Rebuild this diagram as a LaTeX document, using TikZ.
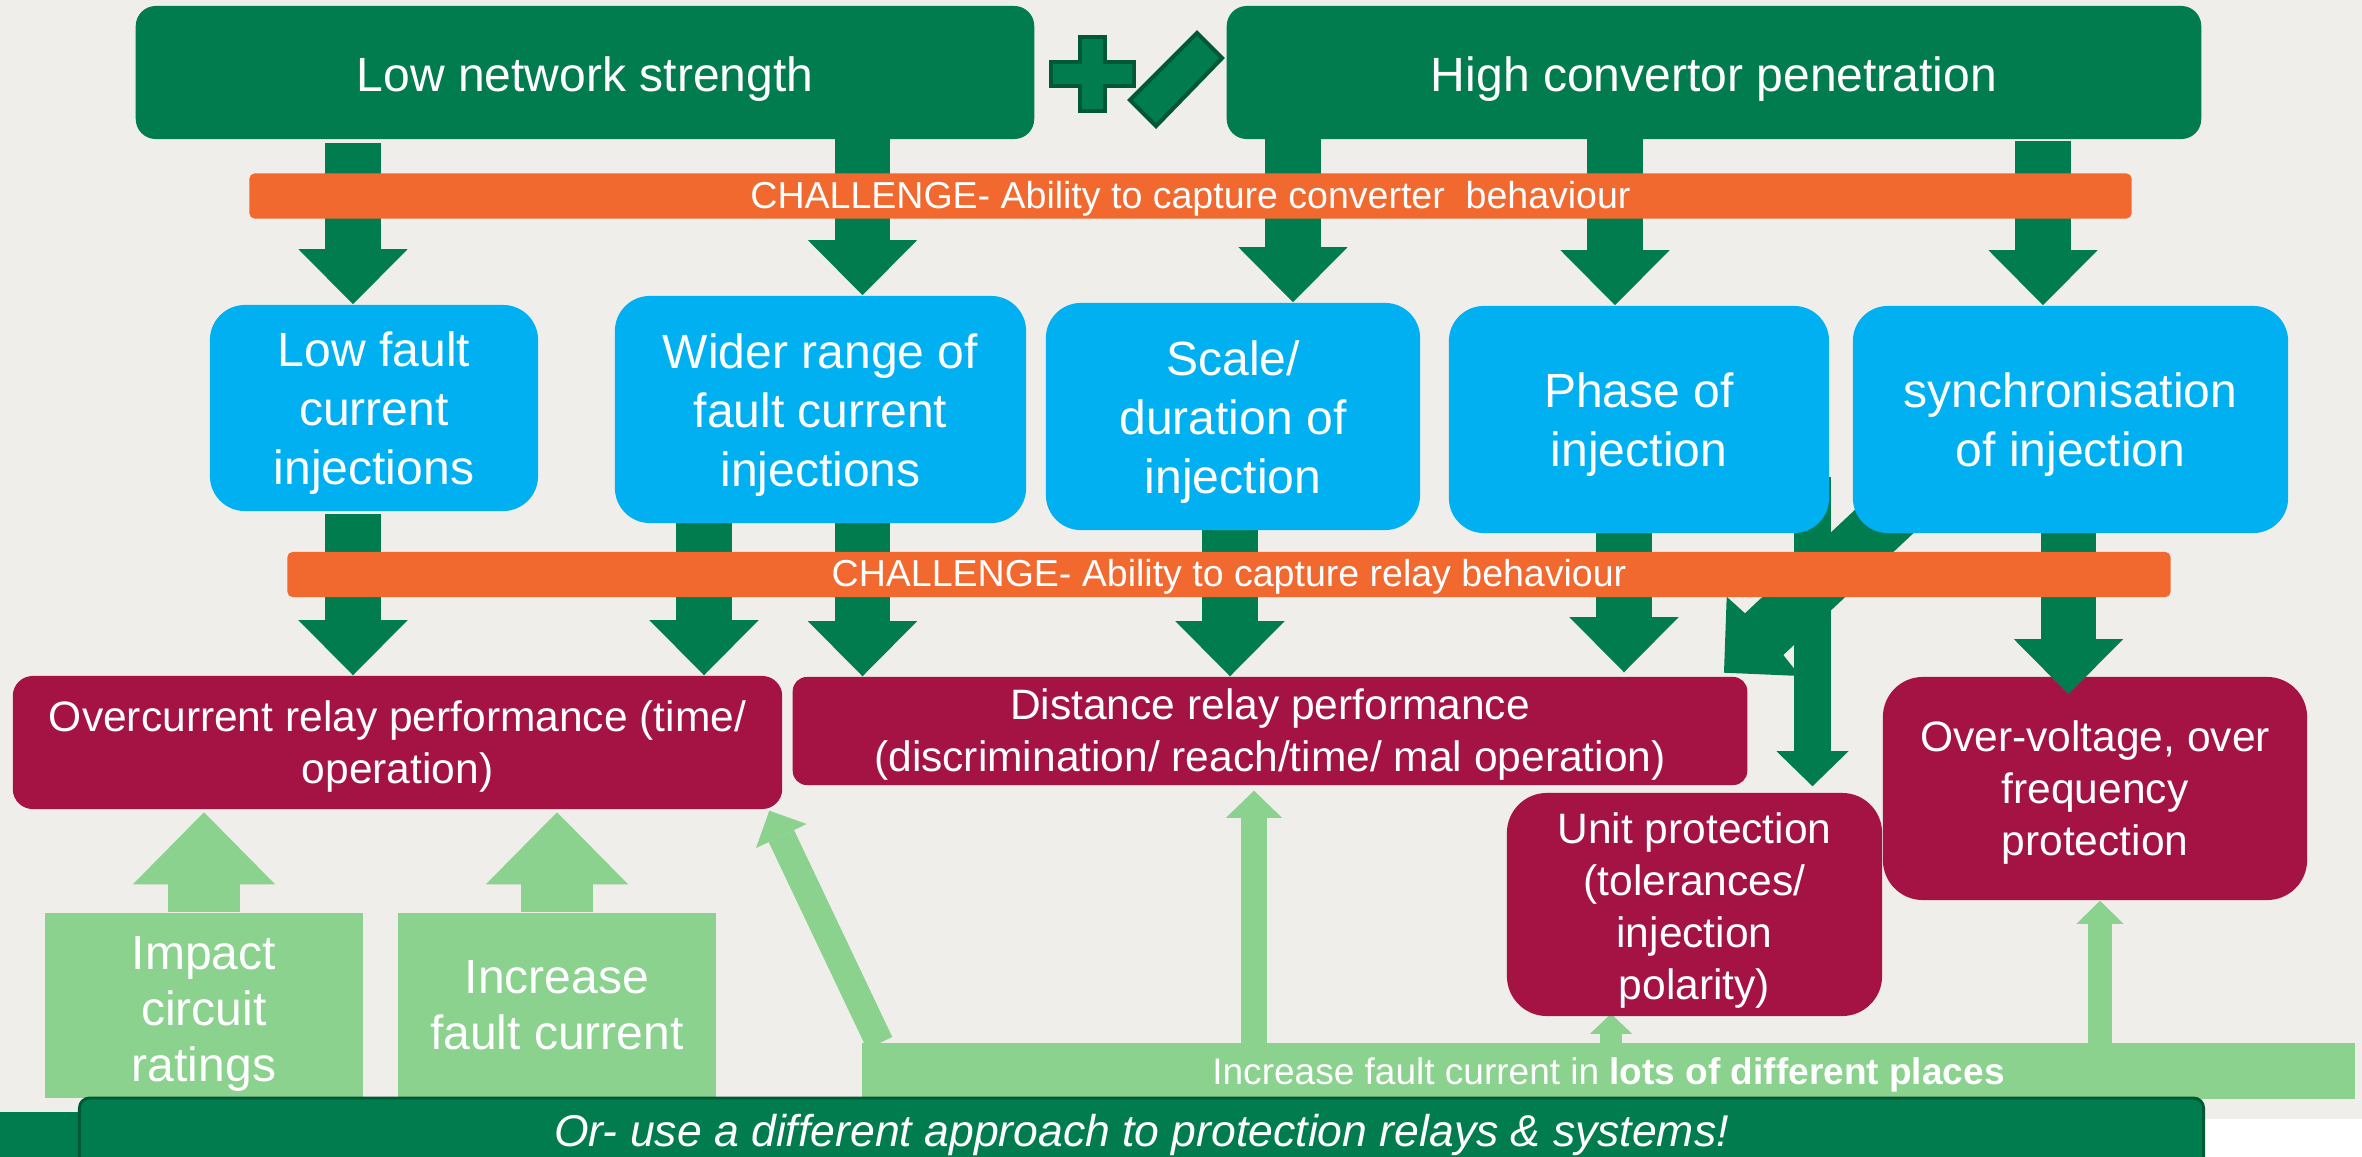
\documentclass[tikz,border=0pt]{standalone}
\usepackage{fontspec}
\setmainfont{Liberation Sans}
\usetikzlibrary{arrows.meta,calc}
\pgfdeclarelayer{back}
\pgfdeclarelayer{low}
\pgfdeclarelayer{arr}
\pgfsetlayers{back,low,arr,main}
\definecolor{bgc}{RGB}{239,238,234}
\definecolor{dkg}{RGB}{0,124,78}
\definecolor{dkl}{RGB}{0,88,52}
\definecolor{sky}{RGB}{0,176,240}
\definecolor{org}{RGB}{242,105,48}
\definecolor{crim}{RGB}{165,19,68}
\definecolor{ltg}{RGB}{138,210,142}
% text lowered by #1 inside its node, keeping the node's extents
\newcommand\tx[2]{\raisebox{-#1}[\height][\depth]{\begin{tabular}{@{}c@{}}#2\end{tabular}}}
\tikzset{
  topbox/.style={fill=dkg, rounded corners=0.2cm, text=white, inner sep=0pt, font=\fontsize{13.66pt}{16.8pt}\selectfont},
  chal/.style={fill=org, rounded corners=0.05cm, text=white, inner sep=0pt, font=\fontsize{10.67pt}{12.8pt}\selectfont},
  bluebox/.style={fill=sky, rounded corners=0.35cm, text=white, inner sep=0pt, font=\fontsize{13.66pt}{16.8pt}\selectfont},
  redbox/.style={fill=crim, text=white, inner sep=0pt, font=\fontsize{12.09pt}{14.8pt}\selectfont},
  ltbox/.style={fill=ltg, text=white, inner sep=0pt, font=\fontsize{13.66pt}{15.93pt}\selectfont},
  blk/.style n args={4}{draw=#1, line width=#2, line cap=butt, -{Triangle[width=#3,length=#4,line width=0pt]}},
  dkarrow/.style={blk={dkg}{0.55cm}{1.09cm}{0.55cm}},
  symb/.style={fill=dkg, draw=dkl, line width=1.2pt, line join=miter}
}
\begin{document}
\begin{tikzpicture}[x=0.01cm,y=-0.01cm]
\useasboundingbox (0,0) rectangle (2362,1157);
\begin{pgfonlayer}{back}
  \fill[bgc] (0,0) rectangle (2362,1157);
  \fill[dkg] (0,1112) rectangle (80,1157);
  \fill[white] (2203,1119) rectangle (2362,1157);
\end{pgfonlayer}

% top boxes
\node[topbox, minimum width=8.98cm, minimum height=1.33cm] (lns) at (585,72.5) {\tx{0.07cm}{Low network strength}};
\node[topbox, minimum width=9.74cm, minimum height=1.33cm] (hcp) at (1714,72.5) {\tx{0.07cm}{High convertor penetration}};

% plus / slash
\path[symb] (1080,37) -- (1105,37) -- (1105,62) -- (1134,62) -- (1134,86) -- (1105,86) -- (1105,111) -- (1080,111) -- (1080,86) -- (1051,86) -- (1051,62) -- (1080,62) -- cycle;
\path[symb] (1197,33) -- (1222,58) -- (1156,126) -- (1130,100) -- cycle;

% challenge bars
\node[chal, minimum width=18.81cm, minimum height=0.44cm] (ch1) at (1190.5,196) {\tx{0.03cm}{CHALLENGE- Ability to capture converter\ \ behaviour}};
\node[chal, minimum width=18.82cm, minimum height=0.45cm] (ch2) at (1229,574.5) {\tx{0.03cm}{CHALLENGE- Ability to capture relay behaviour}};

% blue boxes
\node[bluebox, minimum width=3.28cm, minimum height=2.06cm] (b1) at (374,408) {\tx{0.06cm}{Low fault\\current\\injections}};
\node[bluebox, minimum width=4.11cm, minimum height=2.27cm] (b2) at (820.5,409.5) {\tx{0.06cm}{Wider range of\\fault current\\injections}};
\node[bluebox, minimum width=3.74cm, minimum height=2.27cm] (b3) at (1233,416.5) {\tx{0.06cm}{Scale/\\duration of\\injection}};
\node[bluebox, minimum width=3.80cm, minimum height=2.27cm] (b4) at (1639,419.5) {\tx{0.06cm}{Phase of\\injection}};
\node[bluebox, minimum width=4.35cm, minimum height=2.27cm] (b5) at (2070.5,419.5) {\tx{0.06cm}{synchronisation\\of injection}};

% red boxes
\node[redbox, rounded corners=0.2cm, minimum width=7.69cm, minimum height=1.33cm] (r1) at (397.5,742.5) {\tx{0.05cm}{Overcurrent relay performance (time/\\operation)}};
\node[redbox, rounded corners=0.14cm, minimum width=9.54cm, minimum height=1.08cm] (r2) at (1270,731) {\tx{0.04cm}{Distance relay performance\\(discrimination/ reach/time/ mal operation)}};
\node[redbox, rounded corners=0.4cm, minimum width=3.75cm, minimum height=2.23cm] (r3) at (1694.5,904.5) {\tx{0.065cm}{Unit protection\\(tolerances/\\injection\\polarity)}};
\begin{pgfonlayer}{low}
\node[redbox, rounded corners=0.4cm, minimum width=4.24cm, minimum height=2.23cm] (r4) at (2095,788.5) {\tx{0.045cm}{Over-voltage, over\\frequency\\protection}};
\end{pgfonlayer}

% light green boxes
\node[ltbox, minimum width=3.18cm, minimum height=1.85cm] (g1) at (204,1005.5) {\tx{0.09cm}{Impact\\circuit\\ratings}};
\node[ltbox, minimum width=3.18cm, minimum height=1.85cm] (g2) at (557,1005.5) {\tx{0.05cm}{Increase\\fault current}};
\node[ltbox, minimum width=14.93cm, minimum height=0.56cm, font=\fontsize{10.53pt}{12.6pt}\selectfont] (gbar) at (1608.5,1071) {\tx{0.045cm}{Increase fault current in \textbf{lots of different places}}};

% footer
\node[fill=dkg, draw=dkl, line width=0.8pt, rounded corners=0.1cm, minimum width=21.23cm, minimum height=0.70cm, inner sep=0pt, text=white, font=\fontsize{12.66pt}{15pt}\selectfont\itshape] (ft) at (1141.5,1133) {\tx{0.03cm}{Or- use a different approach to protection relays \& systems!}};

% arrows
\begin{pgfonlayer}{arr}
  \coordinate (s1) at (353,143);
  \coordinate (s2) at (862.5,139);
  \coordinate (s3) at (1293,139);
  \coordinate (s4) at (1615,139);
  \coordinate (s5) at (2043,141);
  \draw[dkarrow] (s1) -- (s1 |- b1.north);
  \draw[dkarrow] (s2) -- (s2 |- b2.north);
  \draw[dkarrow] (s3) -- (s3 |- b3.north);
  \draw[dkarrow] (s4) -- (s4 |- b4.north);
  \draw[dkarrow] (s5) -- (s5 |- b5.north);

  \coordinate (sA) at (353,514);
  \coordinate (sB) at (704,523);
  \coordinate (sC) at (862.5,521);
  \coordinate (sD) at (1230,530);
  \coordinate (sE) at (1624,533);
  \coordinate (sF) at (1812.5,477);
  \coordinate (sG) at (2068.5,524);
  \draw[dkarrow] (sA) -- (sA |- r1.north);
  \draw[dkarrow] (sB) -- (sB |- r1.north);
  \draw[dkarrow] (sC) -- (sC |- r2.north);
  \draw[dkarrow] (sD) -- (sD |- r2.north);
  \draw[dkarrow] (sE) -- ($(sE |- r2.north)+(0,-4)$);
  \draw[blk={dkg}{0.37cm}{0.72cm}{0.35cm}] (sF) -- ($(sF |- r3.north)+(0,-6)$);
  \draw[dkarrow] (sG) -- ($(sG |- r4.north)+(0,18)$);

  % bent arrow tangle
  \fill[dkg] (1900,467.4) -- (1745,613.3) -- (1726.7,596.7) -- (1724,672.7) -- (1800,676) -- (1783.3,655) -- (1980,470.9) -- cycle;

  % light green arrows
  \draw[blk={ltg}{0.71cm}{1.42cm}{0.72cm}] (g1.north) -- ++(0,-100);
  \draw[blk={ltg}{0.71cm}{1.42cm}{0.72cm}] (g2.north) -- ++(0,-100);
  \coordinate (d0) at (879.6,1043);
  \coordinate (d1) at (769.3,810.7);
  \draw[blk={ltg}{0.28cm}{0.56cm}{0.28cm}] (d0) -- (d1);
  \coordinate (l3) at (1254,1043);
  \coordinate (l4) at (1611,1043);
  \coordinate (l5) at (2100,1043);
  \draw[blk={ltg}{0.26cm}{0.56cm}{0.27cm}] (l3) -- ($(l3 |- r2.south)+(0,5)$);
  \draw[blk={ltg}{0.22cm}{0.42cm}{0.20cm}] (l4) -- ($(l4 |- r3.south)+(0,-3)$);
  \draw[blk={ltg}{0.24cm}{0.47cm}{0.23cm}] (l5) -- (l5 |- r4.south);
\end{pgfonlayer}
\end{tikzpicture}
\end{document}
